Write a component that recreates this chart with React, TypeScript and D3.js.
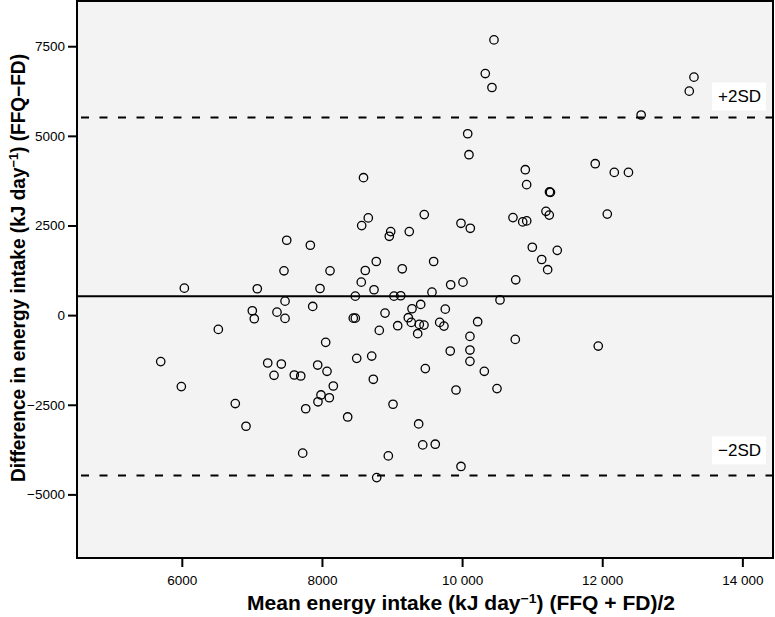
import React from "react";
import * as d3 from "d3";

// Mean energy intake (FFQ + FD)/2, kJ/day
const meanIntake = [
  7490, 7827, 7451, 8108, 6029, 7070, 7965, 7466, 7861, 6999,
  7351, 7027, 7466, 6514, 8046, 5692, 7219, 7413, 7932, 8065,
  7309, 7598, 7690, 5986, 8155, 7979, 7936, 8098, 6756, 7761,
  6909, 7718, 8360, 8726, 9007, 8940, 8774, 8586, 8654, 8560,
  9453, 9977, 10110, 8974, 8954, 9239, 8768, 9587, 8611, 9139,
  8554, 10006, 9830, 8736, 9563, 8469, 9021, 9117, 10534, 9402,
  9278, 9753, 8893, 8440, 8469, 9225, 9268, 9382, 9449, 9673,
  9734, 9074, 8811, 9359, 10215, 10105, 9824, 10105, 10105, 8489,
  8703, 9468, 10310, 9906, 10491, 9373, 9431, 9610, 9977, 10448,
  10324, 10419, 10073, 10091, 11893, 12165, 12367, 10895, 10914, 11240,
  11254, 10719, 10858, 10915, 11190, 11237, 12065, 10995, 11351, 11129,
  11214, 10758, 10752, 11936, 12548, 13302, 13235,
];

// Difference FFQ - FD, kJ/day
const difference = [
  2102, 1963, 1250, 1250, 766, 749, 757, 404, 256, 136,
  97, -86, -78, -384, -746, -1283, -1322, -1350, -1378, -1553,
  -1665, -1656, -1684, -1979, -1963, -2213, -2403, -2291, -2453, -2597,
  -3085, -3836, -2826, -1776, -2472, -3912, -4518, 3847, 2726, 2511,
  2817, 2575, 2436, 2344, 2213, 2344, 1509, 1509, 1258, 1306,
  933, 933, 860, 721, 654, 543, 543, 554, 437, 312,
  192, 181, 70, -70, -70, -58, -189, -245, -264, -189,
  -292, -281, -412, -504, -170, -579, -988, -960, -1275, -1192,
  -1128, -1478, -1553, -2074, -2035, -3021, -3605, -3586, -4207, 7690,
  6751, 6362, 5072, 4488, 4237, 3995, 3995, 4070, 3653, 3449,
  3438, 2734, 2614, 2642, 2909, 2803, 2831, 1907, 1821, 1565,
  1281, 999, -663, -849, 5596, 6651, 6261,
];

const xTicks = [6000, 8000, 10000, 12000, 14000];
const xTickLabels = ["6000", "8000", "10 000", "12 000", "14 000"];
const yTicks = [-5000, -2500, 0, 2500, 5000, 7500];
const yTickLabels = ["\u22125000", "\u22122500", "0", "2500", "5000", "7500"];

const meanDifference = 543;
const upperLimit = 5526;
const lowerLimit = -4457;
const limitLabels = ["+2SD", "\u22122SD"];

const W = 775;
const H = 617;
const plot = { left: 77, right: 773, top: 1, bottom: 558 };

export default function App() {
  const x = d3.scaleLinear().domain([4497, 14430]).range([plot.left, plot.right]);
  const y = d3.scaleLinear().domain([-6760, 8775]).range([plot.bottom, plot.top]);
  const font = "'Liberation Sans', Arial, Helvetica, sans-serif";

  const points = meanIntake.map((m, i) => ({ m, d: difference[i] }));

  return (
    <svg
      width={W}
      height={H}
      style={{ position: "absolute", left: 0, top: 0, display: "block", background: "#fff" }}
      fontFamily={font}
    >
      <rect
        x={plot.left}
        y={plot.top}
        width={plot.right - plot.left}
        height={plot.bottom - plot.top}
        fill="#f3f3f3"
      />
      {/* reference lines */}
      <line
        x1={plot.left}
        x2={plot.right}
        y1={y(meanDifference)}
        y2={y(meanDifference)}
        stroke="#000"
        strokeWidth={2}
      />
      {[upperLimit, lowerLimit].map((v, i) => (
        <line
          key={i}
          x1={plot.left + 4}
          x2={plot.right}
          y1={y(v)}
          y2={y(v)}
          stroke="#000"
          strokeWidth={2}
          strokeDasharray="8,10.5"
        />
      ))}
      {/* points */}
      {points.map((p, i) => (
        <circle
          key={i}
          cx={x(p.m)}
          cy={y(p.d)}
          r={4.2}
          fill="none"
          stroke="#000"
          strokeWidth={1.3}
        />
      ))}
      {/* limit labels */}
      {[upperLimit, lowerLimit].map((v, i) => {
        const cy = y(v) + (i === 0 ? -21 : -25);
        return (
          <g key={i}>
            <rect x={712} y={cy - 14} width={54} height={28} fill="#fff" />
            <text
              x={739.5}
              y={cy}
              textAnchor="middle"
              dominantBaseline="central"
              fontSize={17}
              fill="#000"
            >
              {limitLabels[i]}
            </text>
          </g>
        );
      })}
      {/* frame */}
      <rect
        x={plot.left}
        y={plot.top}
        width={plot.right - plot.left}
        height={plot.bottom - plot.top}
        fill="none"
        stroke="#000"
        strokeWidth={2}
      />
      {/* x axis ticks */}
      {xTicks.map((t, i) => (
        <g key={i}>
          <line x1={x(t)} x2={x(t)} y1={plot.bottom} y2={plot.bottom + 9} stroke="#000" strokeWidth={2} />
          <text x={x(t)} y={585} textAnchor="middle" fontSize={13.5} fill="#000">
            {xTickLabels[i]}
          </text>
        </g>
      ))}
      {/* y axis ticks */}
      {yTicks.map((t, i) => (
        <g key={i}>
          <line x1={plot.left - 9} x2={plot.left} y1={y(t)} y2={y(t)} stroke="#000" strokeWidth={2} />
          <text x={65} y={y(t)} textAnchor="end" dominantBaseline="central" fontSize={13.5} fill="#000">
            {yTickLabels[i]}
          </text>
        </g>
      ))}
      {/* axis titles */}
      <text
        x={461}
        y={610}
        textAnchor="middle"
        fontSize={19.5}
        fontWeight="bold"
        fill="#000"
        textLength={428}
        lengthAdjust="spacingAndGlyphs"
      >
        Mean energy intake (kJ day
        <tspan dy={-7.5} fontSize={13}>{"\u22121"}</tspan>
        <tspan dy={7.5}>) (FFQ + FD)/2</tspan>
      </text>
      <text
        transform="translate(25,268) rotate(-90)"
        textAnchor="middle"
        fontSize={19.5}
        fontWeight="bold"
        fill="#000"
        textLength={428}
        lengthAdjust="spacingAndGlyphs"
      >
        Difference in energy intake (kJ day
        <tspan dy={-7.5} fontSize={13}>{"\u22121"}</tspan>
        <tspan dy={7.5}>) (FFQ{"\u2212"}FD)</tspan>
      </text>
    </svg>
  );
}
